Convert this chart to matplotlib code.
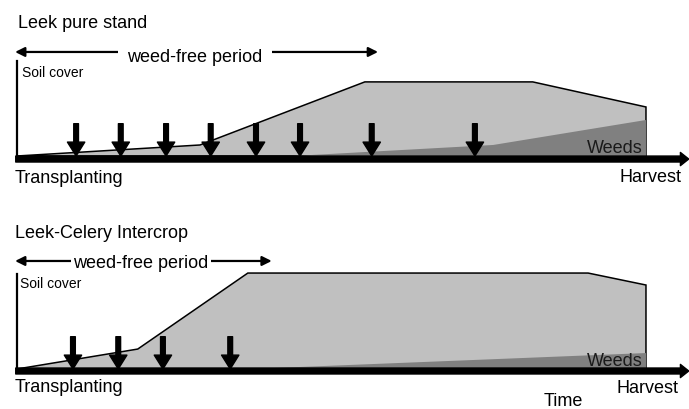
import matplotlib.pyplot as plt
import numpy as np

plt.rcParams['font.family'] = ['Liberation Sans', 'DejaVu Sans']

# time in % of growing season (0 = transplanting, 100 = harvest), soil cover in %
# leek pure stand
pure_crop_t = [0, 29.1, 55.3, 82.0, 100, 100]
pure_crop_c = [0, 11.6, 78, 78, 51.6, 0]
pure_weed_t = [43.9, 75.7, 100, 100]
pure_weed_c = [0, 11.6, 37.9, 0]
pure_hoeing = [9.4, 16.5, 23.7, 30.8, 38.0, 45.0, 56.4, 72.8]
pure_weedfree_end = 57.4

# leek-celery intercrop
inter_crop_t = [0, 19.2, 36.7, 90.8, 100, 100]
inter_crop_c = [0, 21, 101, 101, 88.4, 0]
inter_weed_t = [37, 100, 100]
inter_weed_c = [0, 16.8, 0]
inter_hoeing = [8.9, 16.1, 23.2, 33.9]
inter_weedfree_end = 40.5

crop_col = '#c0c0c0'
weed_col = '#808080'
fs = 13

fig = plt.figure(figsize=(6.89, 4.10), dpi=100)


def panel(ax, title, crop_t, crop_c, weed_t, weed_c, hoeing, wf_end, pos):
    ax.set_xlim(-2.70, 106.84)
    ax.set_ylim(*pos['ylim'])
    ax.axis('off')

    ax.fill(crop_t, crop_c, facecolor=crop_col, edgecolor='black', lw=1.1, zorder=1)
    ax.fill(weed_t, weed_c, facecolor=weed_col, edgecolor='none', zorder=2)

    # soil cover axis
    ax.plot([0, 0], [pos['base'], 100], color='black', lw=1.6, zorder=3)
    # time axis
    ax.annotate('', xy=(106.8, pos['base']), xytext=(-0.2, pos['base']),
                arrowprops=dict(facecolor='black', edgecolor='black', width=4.3,
                                headwidth=9.5, headlength=6, shrink=0), zorder=4)

    # hoeing events
    for t in hoeing:
        ax.annotate('', xy=(t, 0), xytext=(t, 34),
                    arrowprops=dict(facecolor='black', edgecolor='black', width=3.4,
                                    headwidth=12.5, headlength=10, shrink=0), zorder=5)

    # weed-free period
    ax.annotate('', xy=(wf_end, pos['wf_y']), xytext=(-0.3, pos['wf_y']),
                arrowprops=dict(arrowstyle='<|-|>', color='black', lw=1.6,
                                mutation_scale=14, shrinkA=0, shrinkB=0))
    ax.text(pos['wf_x'], pos['wf_ty'], 'weed-free period', fontsize=fs,
            ha='center', va='baseline',
            bbox=dict(boxstyle='square,pad=%s' % pos['wf_pad'], fc='white', ec='none'))

    ax.text(pos['title'][0], pos['title'][1], title, fontsize=fs, va='baseline')
    ax.text(pos['soil'][0], pos['soil'][1], 'Soil cover', fontsize=10, va='baseline')
    ax.text(-0.3, pos['trans'], 'Transplanting', fontsize=fs, va='baseline')
    ax.text(pos['harv'][0], pos['harv'][1], 'Harvest', fontsize=fs, ha='right', va='baseline')
    ax.text(99.5, 4.2, 'Weeds', fontsize=fs, ha='right', va='baseline', color='#1a1a1a', zorder=6)


ax1 = fig.add_axes([0, 0.5, 1, 0.5])
panel(ax1, 'Leek pure stand', pure_crop_t, pure_crop_c, pure_weed_t, pure_weed_c,
      pure_hoeing, pure_weedfree_end,
      dict(ylim=(-50.53, 165.26), base=-3.2, wf_y=109.5, wf_x=28.3, wf_ty=100,
           wf_pad=0.5, title=(0.16, 135.8), soil=(0.8, 84.2), trans=-27.4,
           harv=(105.7, -26.3)))

ax2 = fig.add_axes([0, 0, 1, 0.5])
panel(ax2, 'Leek-Celery Intercrop', inter_crop_t, inter_crop_c, inter_weed_t, inter_weed_c,
      inter_hoeing, inter_weedfree_end,
      dict(ylim=(-42.1, 173.68), base=-2.1, wf_y=113.7, wf_x=19.7, wf_ty=107.4,
           wf_pad=0.15, title=(-0.3, 138.9), soil=(0.5, 86.3), trans=-23.2,
           harv=(105.1, -24.2)))
ax2.text(83.8, -37.5, 'Time', fontsize=fs, va='baseline')

fig.savefig('out.png', dpi=100)
